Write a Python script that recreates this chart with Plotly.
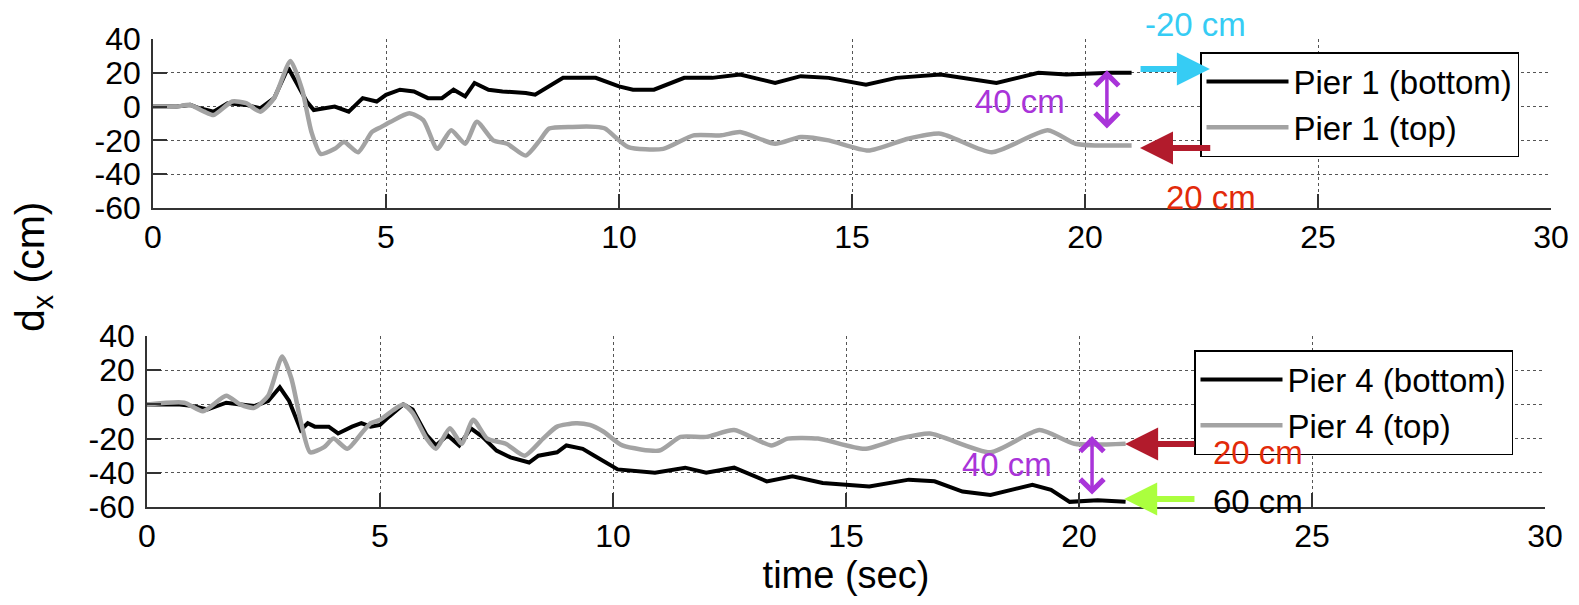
import plotly.graph_objects as go

# ---------------- data ----------------
t_p1_bottom = [0, 0.5, 0.8, 1.0, 1.3, 1.6, 2.0, 2.3, 2.6, 2.9, 3.1, 3.3, 3.45, 3.7, 3.9, 4.2, 4.5, 4.8,
               5.0, 5.3, 5.6, 5.9, 6.2, 6.45, 6.7, 6.9, 7.2, 7.5, 8.0, 8.2, 8.5, 8.8, 9.5, 10.0, 10.3,
               10.75, 11.4, 12.0, 12.6, 13.35, 13.9, 14.5, 15.3, 15.95, 16.9, 17.65, 18.1, 19.0, 19.6,
               20.55, 21.0]
d_p1_bottom = [0, 0, 1, -1, -3, 2, 1, -1, 5, 23, 13, 3, -2, -1, 0, -3, 5, 3,
               7, 10, 9, 5, 5, 10, 6, 14, 10, 9, 8, 7, 12, 17, 17, 12, 10,
               10, 17, 17, 19, 14, 18, 17, 13, 17, 19, 16, 14, 20, 19,
               20, 20]

t_p1_top = [0, 0.5, 0.8, 1.1, 1.3, 1.7, 2.0, 2.3, 2.6, 2.95, 3.2, 3.4, 3.6, 3.9, 4.1, 4.4, 4.7, 4.9,
            5.1, 5.5, 5.8, 6.1, 6.4, 6.7, 6.95, 7.3, 7.6, 8.0, 8.3, 8.5, 9.0, 9.5, 9.7, 10.2, 10.95,
            11.6, 12.2, 12.6, 13.35, 13.9, 14.5, 15.35, 16.2, 16.9, 18.0, 19.2, 19.8, 20.25, 21.0]
d_p1_top = [0, 0, 1, -3, -5, 3, 2, -3, 5, 27, 10, -15, -28, -25, -21, -27, -15, -12,
            -9, -4, -8, -25, -14, -22, -9, -20, -22, -29, -20, -13, -12, -12, -13, -24, -25,
            -17, -17, -15, -22, -18, -20, -26, -19, -16, -27, -14, -22, -23, -23]

t_p4_bottom = [0, 0.7, 1.0, 1.3, 1.7, 2.0, 2.3, 2.6, 2.85, 3.05, 3.3, 3.45, 3.6, 3.9, 4.1, 4.4, 4.6,
               4.8, 5.0, 5.2, 5.5, 5.7, 6.0, 6.2, 6.45, 6.7, 6.95, 7.2, 7.5, 7.8, 8.2, 8.4, 8.8, 9.0,
               9.35, 9.6, 10.1, 10.9, 11.55, 12.0, 12.6, 13.3, 13.85, 14.5, 14.9, 15.5, 16.35, 16.9,
               17.5, 18.1, 19.0, 19.4, 19.8, 20.4, 21.0]
d_p4_bottom = [0, 0, -1, -3, 1, 0, -1, 2, 10, 2, -15, -11, -13, -13, -17, -13, -11,
               -13, -12, -7, 0, -3, -18, -24, -18, -24, -14, -19, -27, -31, -34, -30, -28, -24,
               -26, -30, -38, -40, -37, -40, -37, -45, -42, -46, -47, -48, -44, -45,
               -51, -53, -47, -50, -57, -56, -57]

t_p4_top = [0, 0.8, 1.2, 1.7, 2.0, 2.3, 2.6, 2.9, 3.1, 3.3, 3.5, 3.8, 4.0, 4.3, 4.6, 4.8, 5.0, 5.3,
            5.5, 5.7, 6.0, 6.2, 6.5, 6.75, 7.0, 7.3, 7.7, 8.1, 8.5, 8.8, 9.2, 9.5, 9.8, 10.2, 11.0,
            11.45, 12.0, 12.6, 13.4, 13.75, 14.4, 15.4, 16.15, 16.8, 18.1, 19.15, 19.9, 21.0]
d_p4_top = [0, 1, -4, 5, 0, -2, 5, 28, 15, -10, -28, -25, -20, -26, -17, -11, -9, -3,
            0, -5, -20, -26, -14, -23, -9, -20, -23, -30, -20, -13, -11, -12, -16, -24, -27,
            -19, -19, -15, -24, -20, -20, -26, -20, -17, -28, -15, -23, -23]

x_ticks = [0, 5, 10, 15, 20, 25, 30]
y_ticks = [-60, -40, -20, 0, 20, 40]
x_ticktext = [str(v) for v in x_ticks]
y_ticktext = [str(v) for v in y_ticks]   # plain hyphen minus, as in the original

FONT = "Liberation Sans, Arial, sans-serif"
W, H = 1579, 605
BLACK = "#000000"
GRAY = "#A3A3A3"
CYAN = "#36CCF4"
DARKRED = "#B21B2C"
RED = "#E22A0A"
PURPLE = "#A934D9"
GREEN = "#ABFF3E"

fig = go.Figure()
fig.add_trace(go.Scatter(x=t_p1_bottom, y=d_p1_bottom, mode="lines", name="Pier 1 (bottom)",
                         line=dict(color=BLACK, width=4), xaxis="x", yaxis="y", legend="legend"))
fig.add_trace(go.Scatter(x=t_p1_top, y=d_p1_top, mode="lines", name="Pier 1 (top)",
                         line=dict(color=GRAY, width=4.5, shape="spline", smoothing=0.6),
                         xaxis="x", yaxis="y", legend="legend"))
fig.add_trace(go.Scatter(x=t_p4_bottom, y=d_p4_bottom, mode="lines", name="Pier 4 (bottom)",
                         line=dict(color=BLACK, width=4), xaxis="x2", yaxis="y2", legend="legend2"))
fig.add_trace(go.Scatter(x=t_p4_top, y=d_p4_top, mode="lines", name="Pier 4 (top)",
                         line=dict(color=GRAY, width=4.5, shape="spline", smoothing=0.6),
                         xaxis="x2", yaxis="y2", legend="legend2"))

axcommon = dict(showline=True, linecolor="#333333", linewidth=1.5, mirror=False,
                ticks="inside", ticklen=14, tickwidth=1.5, tickcolor="#333333",
                showgrid=True, gridcolor="#555555", gridwidth=1, griddash="dot",
                zeroline=False, automargin=False,
                tickfont=dict(family=FONT, size=32, color="black"))

def px_x(p):
    return p / W

def px_y(p):
    return 1 - p / H

fig.update_layout(
    width=W, height=H,
    margin=dict(l=0, r=0, t=0, b=0, autoexpand=False),
    paper_bgcolor="white", plot_bgcolor="white",
    font=dict(family=FONT, color="black"),
    xaxis=dict(domain=[px_x(153), px_x(1551)], range=[0, 30], tickvals=x_ticks,
               ticktext=x_ticktext, anchor="y", ticklabelstandoff=0, **axcommon),
    yaxis=dict(domain=[px_y(208), px_y(39)], range=[-60, 40], tickvals=y_ticks,
               ticktext=y_ticktext, anchor="x", ticklabelstandoff=4, **axcommon),
    xaxis2=dict(domain=[px_x(147), px_x(1545)], range=[0, 30], tickvals=x_ticks,
                ticktext=x_ticktext, anchor="y2", ticklabelstandoff=0,
                title=dict(text="time (sec)", font=dict(family=FONT, size=38), standoff=4),
                **axcommon),
    yaxis2=dict(domain=[px_y(507), px_y(336)], range=[-60, 40], tickvals=y_ticks,
                ticktext=y_ticktext, anchor="x2", ticklabelstandoff=4, **axcommon),
    legend=dict(x=px_x(1200), y=px_y(52), xanchor="left", yanchor="top",
                bgcolor="white", bordercolor="black", borderwidth=1.5,
                font=dict(family=FONT, size=33, color="black"), itemwidth=82,
                tracegroupgap=0),
    legend2=dict(x=px_x(1194), y=px_y(350), xanchor="left", yanchor="top",
                 bgcolor="white", bordercolor="black", borderwidth=1.5,
                 font=dict(family=FONT, size=33, color="black"), itemwidth=82,
                 tracegroupgap=0),
    showlegend=True,
)

# y-axis label shared by both panels
fig.add_annotation(text="d<sub>x</sub> (cm)", xref="paper", yref="paper",
                   x=px_x(33), y=px_y(267), xanchor="center", yanchor="middle",
                   textangle=-90, showarrow=False,
                   font=dict(family=FONT, size=41, color="black"))

def arrow(xr, yr, x_tip, y_tip, x_tail, y_tail, color):
    fig.add_annotation(xref=xr, yref=yr, axref=xr, ayref=yr, x=x_tip, y=y_tip,
                       ax=x_tail, ay=y_tail, text="", showarrow=True,
                       arrowhead=2, arrowsize=1.1, arrowwidth=6, arrowcolor=color)

def double_arrow(xr, yr, x, y_top, y_bot):
    fig.add_annotation(xref=xr, yref=yr, axref=xr, ayref=yr, x=x, y=y_top, ax=x, ay=y_bot,
                       text="", showarrow=True, arrowhead=4, arrowsize=1.3, arrowwidth=3.5,
                       arrowcolor=PURPLE, arrowside="end+start")

def label(xr, yr, x, y, text, color, size=33):
    fig.add_annotation(xref=xr, yref=yr, x=x, y=y, text=text, showarrow=False,
                       xanchor="center", yanchor="middle",
                       font=dict(family=FONT, size=size, color=color))

# top panel annotations
arrow("x", "y", 22.68, 22.2, 21.16, 22.2, CYAN)
arrow("x", "y", 21.18, -24.5, 22.72, -24.5, DARKRED)
double_arrow("x", "y", 20.47, 21.5, -13.8)
label("paper", "paper", px_x(1195), px_y(24), "-20 cm", CYAN)
label("x", "y", 22.70, -53.5, "20 cm", RED)
label("x", "y", 18.6, 3.3, "40 cm", PURPLE)

# bottom panel annotations
arrow("x2", "y2", 20.99, -23.2, 22.51, -23.2, DARKRED)
arrow("x2", "y2", 20.97, -55.3, 22.51, -55.3, GREEN)
double_arrow("x2", "y2", 20.28, -18.5, -53.6)
label("x2", "y2", 23.84, -28.4, "20 cm", RED)
label("x2", "y2", 23.84, -56.5, "60 cm", BLACK)
label("x2", "y2", 18.45, -35.4, "40 cm", PURPLE)

fig.write_html("out.html")
